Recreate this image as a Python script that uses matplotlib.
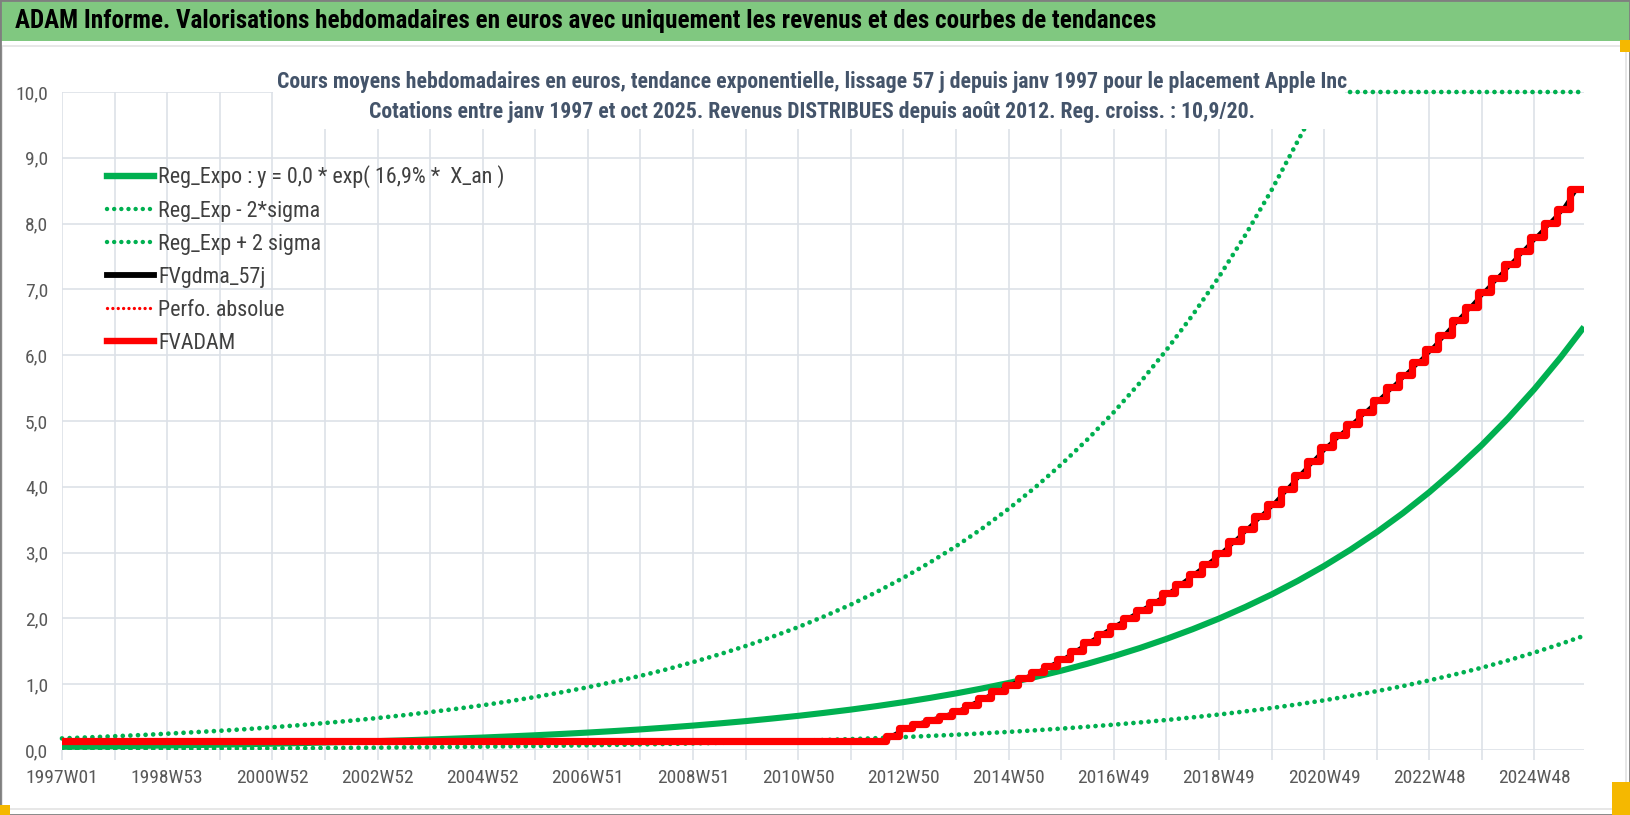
import matplotlib.pyplot as plt
from matplotlib.lines import Line2D
from matplotlib.patches import Rectangle
import numpy as np

# Police étroite proche de Calibri (la première disponible est prise)
ETROITE = ['Roboto Condensed', 'Liberation Sans Narrow', 'Roboto', 'DejaVu Sans']
plt.rcParams['font.family'] = ETROITE

# Abscisses : numéro de semaine depuis 1997W01 (une valeur lue par semestre + dernière semaine)
semaines = list(range(0, 1483, 26)) + [1505]

# Courbes de tendance
reg_expo = [0.049, 0.053, 0.058, 0.063, 0.069, 0.075, 0.081, 0.088, 0.096, 0.104,
            0.114, 0.124, 0.135, 0.147, 0.160, 0.174, 0.189, 0.206, 0.224, 0.244,
            0.265, 0.288, 0.313, 0.341, 0.371, 0.404, 0.439, 0.478, 0.519, 0.565,
            0.614, 0.668, 0.727, 0.791, 0.860, 0.936, 1.018, 1.108, 1.205, 1.311,
            1.426, 1.551, 1.688, 1.836, 1.997, 2.173, 2.363, 2.571, 2.797, 3.043,
            3.310, 3.601, 3.918, 4.263, 4.635, 5.043, 5.486, 5.969, 6.43]
reg_moins_2sigma = [0.013, 0.014, 0.016, 0.017, 0.019, 0.020, 0.022, 0.024, 0.026, 0.028,
                    0.031, 0.034, 0.036, 0.040, 0.043, 0.047, 0.051, 0.056, 0.060, 0.066,
                    0.072, 0.078, 0.085, 0.092, 0.100, 0.109, 0.119, 0.129, 0.140, 0.152,
                    0.166, 0.180, 0.196, 0.214, 0.232, 0.253, 0.275, 0.299, 0.325, 0.354,
                    0.385, 0.419, 0.456, 0.496, 0.539, 0.587, 0.638, 0.694, 0.755, 0.822,
                    0.894, 0.972, 1.058, 1.151, 1.251, 1.362, 1.481, 1.612, 1.736]
reg_plus_2sigma = [0.176, 0.192, 0.209, 0.227, 0.248, 0.270, 0.292, 0.317, 0.346, 0.376,
                   0.410, 0.446, 0.486, 0.529, 0.576, 0.626, 0.680, 0.740, 0.806, 0.877,
                   0.954, 1.038, 1.127, 1.226, 1.336, 1.453, 1.580, 1.719, 1.868, 2.033,
                   2.210, 2.405, 2.617, 2.848, 3.096, 3.368, 3.665, 3.987, 4.338, 4.720,
                   5.134, 5.584, 6.077, 6.610, 7.189, 7.823, 8.507, 9.256, 10.07, 10.95,
                   11.92, 12.96, 14.10, 15.35, 16.69, 18.15, 19.75, 21.49, 23.15]

# FVADAM : niveau avant les revenus distribués, puis paliers trimestriels depuis août 2012
fv_depart = 0.135
semaines_paliers = list(range(815, 1492, 13))
fvadam = [0.22, 0.33, 0.40, 0.46, 0.52, 0.59, 0.69, 0.79, 0.89, 0.99,
          1.09, 1.18, 1.28, 1.38, 1.51, 1.64, 1.77, 1.89, 2.01, 2.13,
          2.25, 2.38, 2.53, 2.68, 2.83, 2.99, 3.17, 3.36, 3.55, 3.74,
          3.96, 4.18, 4.39, 4.60, 4.78, 4.96, 5.14, 5.32, 5.51, 5.70,
          5.89, 6.09, 6.31, 6.53, 6.74, 6.96, 7.17, 7.38, 7.59, 7.80,
          8.01, 8.22, 8.52]
semaine_fin = 1505

etiquettes_x = ['1997W01', '1998W53', '2000W52', '2002W52', '2004W52', '2006W51',
                '2008W51', '2010W50', '2012W50', '2014W50', '2016W49', '2018W49',
                '2020W49', '2022W48', '2024W48']

titre = ("ADAM Informe. Valorisations hebdomadaires en euros avec uniquement "
         "les revenus et des courbes de tendances")
sous_titre_1 = ("Cours moyens hebdomadaires en euros, tendance exponentielle, lissage 57 j "
                "depuis janv 1997 pour le placement Apple Inc")
sous_titre_2 = ("Cotations entre janv 1997 et oct 2025. Revenus DISTRIBUES depuis août 2012. "
                "Reg. croiss. : 10,9/20.")
noms = ['Reg_Expo : y = 0,0 * exp( 16,9% *  X_an )', 'Reg_Exp - 2*sigma', 'Reg_Exp + 2 sigma',
        'FVgdma_57j', 'Perfo. absolue', 'FVADAM']

VERT = '#00B050'
ROUGE = '#FF0000'
GRILLE = '#DDE1E8'
TEXTE = '#44546A'
POINTS = (0, (0.01, 1.6))

W, H = 1630, 815
fig = plt.figure(figsize=(W / 100, H / 100), dpi=100)
rendu = fig.canvas.get_renderer()


def ajuster(txt, largeur_px):
    # ramène la largeur du texte à celle mesurée sur le modèle
    bb = txt.get_window_extent(rendu)
    txt.set_fontsize(txt.get_fontsize() * largeur_px / bb.width)


# bandeau vert du titre et cadres
fig.patches.append(Rectangle((0, 1 - 41 / H), 1, 41 / H, transform=fig.transFigure,
                             facecolor='#80C880', edgecolor='none', zorder=0))
fig.patches.append(Rectangle((2 / W, 6 / H), 1 - 6 / W, 1 - 52 / H, transform=fig.transFigure,
                             facecolor='none', edgecolor='#E3E3E3', lw=1.2, zorder=0))
fig.patches.append(Rectangle((0, 0), 1, 1, transform=fig.transFigure,
                             facecolor='none', edgecolor='#7F7F7F', lw=2, zorder=0))
t = fig.text(15 / W, 1 - 21 / H, titre, fontsize=19, fontweight='bold', color='black',
             va='center', ha='left')
ajuster(t, 1143)

ax = fig.add_axes([62 / W, 1 - 750 / H, (1584 - 62) / W, (750 - 92) / H])
ax.set_xlim(0, semaine_fin)
ax.set_ylim(0, 10)

x = np.array(semaines)
ax.plot(x, reg_expo, color=VERT, lw=4.4, solid_capstyle='butt', zorder=3)
ax.plot(x, reg_moins_2sigma, color=VERT, lw=3.4, linestyle=POINTS,
        dash_capstyle='round', zorder=3)
# au-delà de 10 la courbe est écrasée sur le bord haut, comme dans Excel
ax.plot(x, np.minimum(reg_plus_2sigma, 10), color=VERT, lw=3.4, linestyle=POINTS,
        dash_capstyle='round', zorder=3, clip_on=False)

x_pal = [0] + semaines_paliers + [semaine_fin]
y_pal = [fv_depart] + fvadam + [fvadam[-1]]
x_mil = [0, semaines_paliers[0]] + [s + 6.5 for s in semaines_paliers] + [semaine_fin]
y_mil = [fv_depart, fv_depart] + fvadam + [fvadam[-1]]
ax.plot(x_mil, y_mil, color='black', lw=3, zorder=4)
ax.plot(x_pal, y_pal, color=ROUGE, lw=2, linestyle=POINTS, dash_capstyle='round',
        drawstyle='steps-post', zorder=4)
ax.plot(x_pal, y_pal, color=ROUGE, lw=5.2, drawstyle='steps-post', zorder=5)

# axes façon Excel
graduations = list(range(0, 1457, 52))
ax.set_xticks(graduations)
ax.set_xticklabels([etiquettes_x[i // 2] if i % 2 == 0 else '' for i in range(len(graduations))],
                   fontsize=14, color='#595959')
ax.set_yticks(range(0, 11))
ax.set_yticklabels([f'{v},0' for v in range(0, 11)], fontsize=14, color='#595959')
ax.tick_params(axis='x', length=7, color=GRILLE, width=1.2, pad=7)
ax.tick_params(axis='y', length=0, pad=10)
ax.grid(True, color=GRILLE, lw=1.2, zorder=0)
ax.set_axisbelow(True)
for s in ax.spines.values():
    s.set_visible(False)

# légende sans cadre
poignees = [
    Line2D([], [], color=VERT, lw=4.6),
    Line2D([], [], color=VERT, lw=3.2, linestyle=POINTS, dash_capstyle='round'),
    Line2D([], [], color=VERT, lw=3.2, linestyle=POINTS, dash_capstyle='round'),
    Line2D([], [], color='black', lw=4.2),
    Line2D([], [], color=ROUGE, lw=2.4, linestyle=POINTS, dash_capstyle='round'),
    Line2D([], [], color=ROUGE, lw=4.6),
]
essai = fig.text(0, 0, noms[0], fontsize=15)
ajuster(essai, 347)
taille_leg = essai.get_fontsize()
essai.remove()


def legende(espacement, haut):
    lg = fig.legend(poignees, noms, loc='upper left', bbox_to_anchor=(107 / W, haut),
                    frameon=False, fontsize=taille_leg, handlelength=47 / (taille_leg * 100 / 72),
                    handletextpad=0.2, labelspacing=espacement, borderpad=0, borderaxespad=0)
    for tt in lg.get_texts():
        tt.set_color('#404040')
    return lg


def centres(lg):
    fig.canvas.draw()
    return [(tt.get_window_extent(rendu).y0 + tt.get_window_extent(rendu).y1) / 2
            for tt in lg.get_texts()]


esp, haut = 0.6, 1 - 160 / H
leg = legende(esp, haut)
c = centres(leg)
esp += (34 - (c[0] - c[1])) / (taille_leg * 100 / 72)
leg.remove()
leg = legende(esp, haut)
c = centres(leg)
haut += ((H - 177) - c[0]) / H
leg.remove()
leg = legende(esp, haut)

# cadre blanc du sous-titre qui masque le haut du tracé
fig.patches.append(Rectangle((273 / W, 1 - 129 / H), (1345 - 273) / W, (129 - 50) / H,
                             transform=fig.transFigure, facecolor='white', edgecolor='none',
                             zorder=2))
s1 = fig.text(812 / W, 1 - 82 / H, sous_titre_1, fontsize=16, fontweight='bold', color=TEXTE,
              ha='center', va='center', zorder=3)
s2 = fig.text(812 / W, 1 - 112 / H, sous_titre_2, fontsize=16, fontweight='bold', color=TEXTE,
              ha='center', va='center', zorder=3)
ajuster(s1, 1064)
s2.set_fontsize(s1.get_fontsize())

# petites poignées de sélection orange
for (x0, y0, w, h) in [(0, 805, 10, 10), (1620, 40, 10, 12), (1612, 782, 18, 33)]:
    fig.patches.append(Rectangle((x0 / W, 1 - (y0 + h) / H), w / W, h / H,
                                 transform=fig.transFigure, facecolor='#F5B800',
                                 edgecolor='none', zorder=3))

fig.savefig('out.png', dpi=100)
